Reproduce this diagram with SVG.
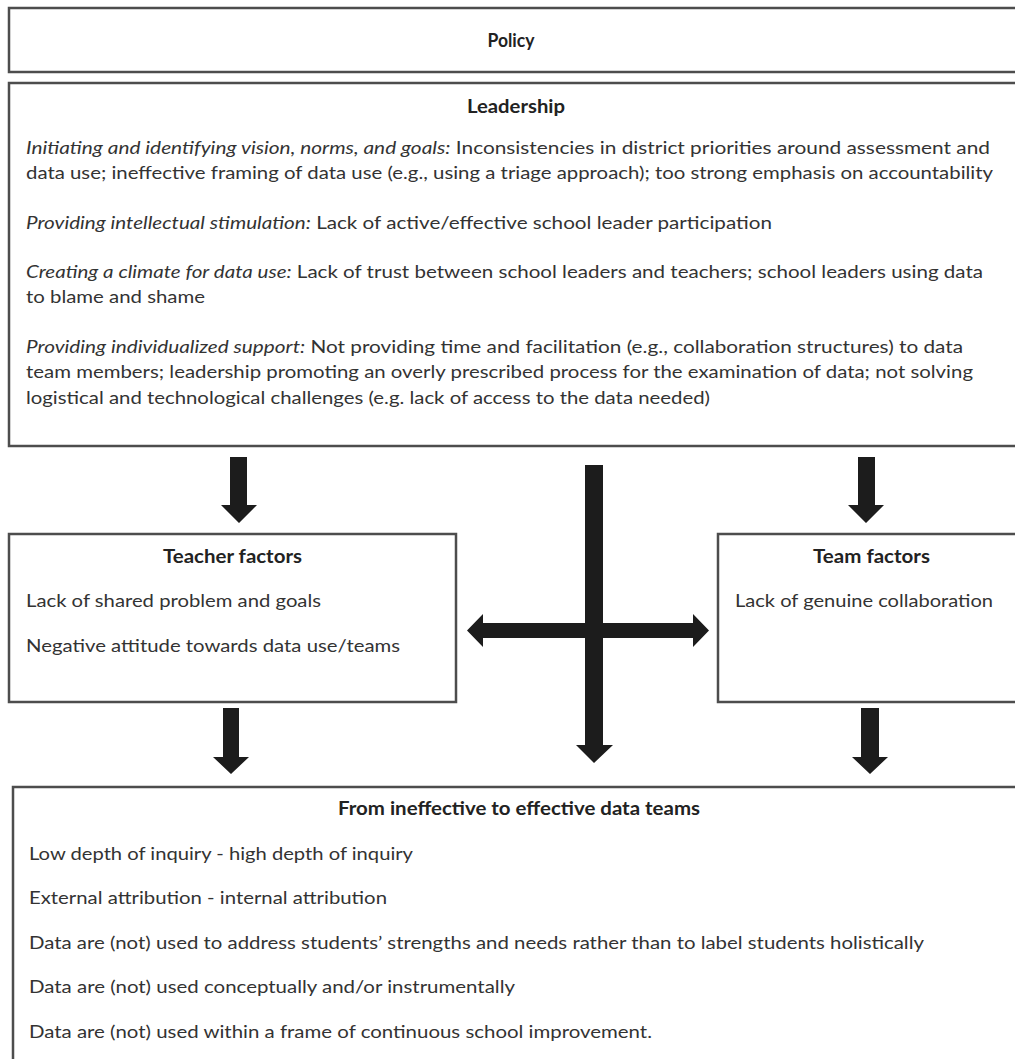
<svg xmlns="http://www.w3.org/2000/svg" width="1015" height="1059" viewBox="0 0 1015 1059">
  <style>
    .box { fill: #ffffff; stroke: #4d4d4d; stroke-width: 2.5; }
    .title { font-family: Lato, "Liberation Sans", sans-serif; font-size: 18px; font-weight: bold; fill: #222222; text-anchor: middle; }
    .body { font-family: Lato, "Liberation Sans", sans-serif; font-size: 18px; fill: #333333; }
    .em { font-style: italic; }
    .arrow { fill: #1c1c1c; stroke: none; }
  </style>

  <rect x="0" y="0" width="1015" height="1059" fill="#ffffff"/>

  <!-- Policy -->
  <g id="policy">
    <rect class="box" x="9" y="8" width="1020" height="64"/>
    <text class="title" x="511" y="47" textLength="47" lengthAdjust="spacingAndGlyphs">Policy</text>
  </g>

  <!-- Leadership -->
  <g id="leadership">
    <rect class="box" x="9" y="83" width="1020" height="363"/>
    <text class="title" x="516" y="113" textLength="98" lengthAdjust="spacingAndGlyphs">Leadership</text>
    <text class="body" x="26" y="154" textLength="964" lengthAdjust="spacingAndGlyphs"><tspan class="em">Initiating and identifying vision, norms, and goals:</tspan> Inconsistencies in district priorities around assessment and</text>
    <text class="body" x="26" y="179" textLength="967" lengthAdjust="spacingAndGlyphs">data use; ineffective framing of data use (e.g., using a triage approach); too strong emphasis on accountability</text>
    <text class="body" x="26" y="229" textLength="746" lengthAdjust="spacingAndGlyphs"><tspan class="em">Providing intellectual stimulation:</tspan> Lack of active/effective school leader participation</text>
    <text class="body" x="26" y="278" textLength="957" lengthAdjust="spacingAndGlyphs"><tspan class="em">Creating a climate for data use:</tspan> Lack of trust between school leaders and teachers; school leaders using data</text>
    <text class="body" x="26" y="303" textLength="179" lengthAdjust="spacingAndGlyphs">to blame and shame</text>
    <text class="body" x="26" y="353" textLength="937" lengthAdjust="spacingAndGlyphs"><tspan class="em">Providing individualized support:</tspan> Not providing time and facilitation (e.g., collaboration structures) to data</text>
    <text class="body" x="26" y="378" textLength="947" lengthAdjust="spacingAndGlyphs">team members; leadership promoting an overly prescribed process for the examination of data; not solving</text>
    <text class="body" x="26" y="404" textLength="684" lengthAdjust="spacingAndGlyphs">logistical and technological challenges (e.g. lack of access to the data needed)</text>
  </g>

  <!-- Teacher factors -->
  <g id="teacher-factors">
    <rect class="box" x="9" y="534" width="447" height="168"/>
    <text class="title" x="232.5" y="563" textLength="139" lengthAdjust="spacingAndGlyphs">Teacher factors</text>
    <text class="body" x="26" y="607" textLength="295" lengthAdjust="spacingAndGlyphs">Lack of shared problem and goals</text>
    <text class="body" x="26" y="652" textLength="374" lengthAdjust="spacingAndGlyphs">Negative attitude towards data use/teams</text>
  </g>

  <!-- Team factors -->
  <g id="team-factors">
    <rect class="box" x="718" y="534" width="310" height="168"/>
    <text class="title" x="871.5" y="563" textLength="117" lengthAdjust="spacingAndGlyphs">Team factors</text>
    <text class="body" x="735" y="607" textLength="258" lengthAdjust="spacingAndGlyphs">Lack of genuine collaboration</text>
  </g>

  <!-- Outcome: data teams -->
  <g id="data-teams">
    <rect class="box" x="13" y="787" width="1020" height="290"/>
    <text class="title" x="519" y="815" textLength="362" lengthAdjust="spacingAndGlyphs">From ineffective to effective data teams</text>
    <text class="body" x="29" y="860" textLength="384" lengthAdjust="spacingAndGlyphs">Low depth of inquiry - high depth of inquiry</text>
    <text class="body" x="29" y="904" textLength="358" lengthAdjust="spacingAndGlyphs">External attribution - internal attribution</text>
    <text class="body" x="29" y="949" textLength="895" lengthAdjust="spacingAndGlyphs">Data are (not) used to address students’ strengths and needs rather than to label students holistically</text>
    <text class="body" x="29" y="993" textLength="486" lengthAdjust="spacingAndGlyphs">Data are (not) used conceptually and/or instrumentally</text>
    <text class="body" x="29" y="1038" textLength="623" lengthAdjust="spacingAndGlyphs">Data are (not) used within a frame of continuous school improvement.</text>
  </g>

  <!-- Block arrows between the boxes -->
  <g id="connectors">
    <!-- Leadership to teacher factors -->
    <polygon class="arrow" points="230,457 247,457 247,505 257,505 239,523 221,505 230,505"/>
    <!-- Leadership to team factors -->
    <polygon class="arrow" points="858,457 875,457 875,505 884,505 866,523 848,505 858,505"/>
    <!-- Leadership straight down to data teams -->
    <polygon class="arrow" points="585,465 603,465 603,745 613,745 594,763 576,745 585,745"/>
    <!-- Two-way link between teacher and team factors -->
    <polygon class="arrow" points="467,630.5 483,614 483,623 693,623 693,614 709,630.5 693,647 693,638 483,638 483,647"/>
    <!-- Teacher factors to data teams -->
    <polygon class="arrow" points="223,708 239,708 239,757 249,757 231,774 213,757 223,757"/>
    <!-- Team factors to data teams -->
    <polygon class="arrow" points="861,708 879,708 879,757 888,757 870,774 852,757 861,757"/>
  </g>
</svg>
